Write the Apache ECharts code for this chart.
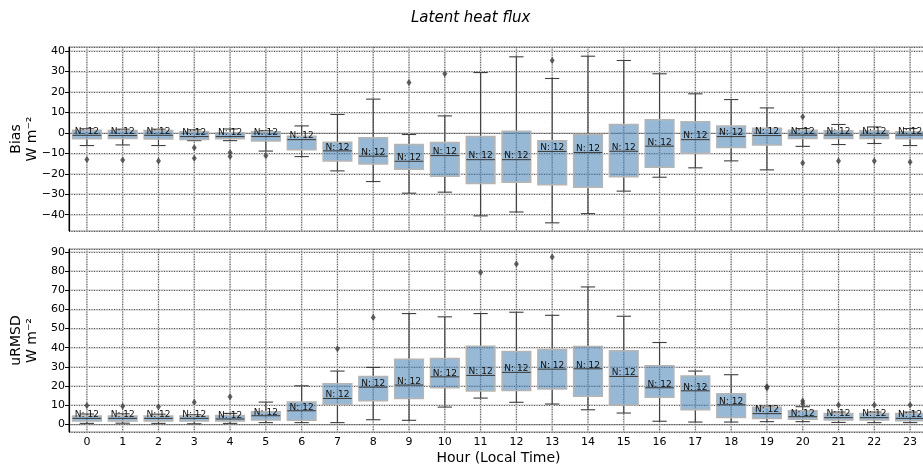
<!DOCTYPE html>
<html>
<head>
  <meta charset="utf-8">
  <title>Latent heat flux</title>
  <script src="https://cdn.jsdelivr.net/npm/echarts@6/dist/echarts.min.js"></script>
</head>
<body style="margin:0">
  <div id="main" style="width:923px;height:467px;"></div>
  <script type="text/javascript">
    var hours = ['0','1','2','3','4','5','6','7','8','9','10','11','12','13','14','15','16','17','18','19','20','21','22','23'];

    // Bias (W m-2): whisker low, Q1, median, Q3, whisker high
    var biasLo  = [-6.2, -5.9, -6.2, -3.8, -3.8, -8.9, -11.6, -18.6, -23.8, -29.5, -29.0, -40.6, -38.7, -44.0, -39.5, -28.5, -21.7, -17.1, -13.7, -18.1, -6.6, -5.7, -5.2, -6.2];
    var biasQ1  = [-2.9, -2.8, -3.0, -3.2, -2.9, -4.0, -8.2, -13.7, -15.2, -17.8, -21.2, -24.8, -24.1, -25.4, -26.6, -21.5, -16.8, -10.0, -7.2, -5.9, -2.8, -2.8, -2.8, -2.9];
    var biasMed = [-1.2, -1.3, -1.2, -1.8, -1.8, -1.8, -3.3, -8.8, -11.4, -13.9, -11.1, -13.1, -13.1, -9.1, -9.6, -9.0, -6.5, -3.3, -1.8, -1.3, -1.1, -1.1, -1.1, -1.1];
    var biasQ3  = [1.3, 1.2, 1.2, 0.5, 0.0, 0.5, -1.6, -4.6, -2.4, -5.7, -4.7, -1.8, 0.8, -3.9, -0.8, 4.1, 6.4, 5.4, 3.3, 2.3, 1.3, 1.0, 1.0, 0.5];
    var biasHi  = [2.0, 1.8, 1.8, 1.5, 1.9, 1.0, 3.4, 9.0, 16.5, -0.8, 8.3, 29.5, 37.2, 26.6, 37.5, 35.4, 28.9, 19.1, 16.3, 12.2, 2.1, 4.1, 2.9, 2.1];
    var biasOutliers = [[0, -13.0], [1, -13.3], [2, -13.8], [3, -7.3], [3, -12.4], [4, -9.6], [4, -11.6], [5, -11.2],
      [9, 24.6], [10, 28.9], [13, 35.4], [20, 7.9], [20, -14.8], [21, -13.8], [22, -13.8], [23, -14.2]];

    // uRMSD (W m-2)
    var rmsdLo  = [0.5, 0.6, 0.5, 0.3, 0.5, 0.9, 0.9, 0.9, 2.4, 2.1, 9.0, 13.7, 11.5, 10.6, 7.6, 5.9, 1.6, 1.2, 1.2, 1.4, 1.4, 1.0, 0.9, 0.9];
    var rmsdQ1  = [1.7, 1.7, 1.7, 1.7, 1.7, 2.3, 2.1, 10.4, 12.3, 13.5, 19.1, 17.4, 17.7, 18.4, 14.6, 10.1, 14.1, 7.6, 3.6, 3.1, 2.6, 2.3, 2.3, 1.9];
    var rmsdMed = [3.1, 3.1, 3.1, 3.1, 2.8, 4.5, 7.1, 13.5, 19.4, 20.5, 24.8, 25.5, 27.1, 28.8, 29.0, 25.0, 19.1, 17.5, 10.2, 5.6, 4.0, 3.5, 3.5, 3.1];
    var rmsdQ3  = [4.3, 4.3, 4.3, 4.3, 4.6, 6.6, 11.6, 21.2, 25.0, 33.9, 34.4, 40.8, 38.0, 39.1, 40.6, 38.4, 30.6, 25.2, 16.0, 8.9, 7.1, 5.7, 5.7, 5.7];
    var rmsdHi  = [5.4, 5.5, 5.3, 5.0, 5.7, 11.6, 20.1, 27.8, 29.7, 57.8, 56.1, 57.8, 58.5, 56.9, 71.7, 56.4, 42.7, 27.8, 25.9, 9.5, 9.2, 6.4, 6.4, 6.4];
    var rmsdOutliers = [[0, 9.8], [1, 9.5], [2, 9.2], [3, 11.5], [4, 14.4], [7, 39.4], [8, 55.7], [11, 79.3], [12, 83.7], [13, 87.3],
      [19, 19.7], [19, 19.0], [20, 12.2], [20, 10.9], [21, 10.1], [22, 10.1], [23, 10.1]];

    var counts = [12, 12, 12, 12, 12, 12, 12, 12, 12, 12, 12, 12, 12, 12, 12, 12, 12, 12, 12, 12, 12, 12, 12, 12];

    var FONT = 'DejaVu Sans';

    function boxRows(lo, q1, med, q3, hi) {
      var rows = [];
      for (var i = 0; i < hours.length; i++) {
        rows.push([i, lo[i], q1[i], med[i], q3[i], hi[i], counts[i]]);
      }
      return rows;
    }

    function renderBox(params, api) {
      var i = api.value(0);
      var cs = params.coordSys;
      var band = api.size([1, 0])[0];
      var w = band * 0.8;
      var cx = api.coord([i, 0])[0];
      var yLo = api.coord([i, api.value(1)])[1];
      var yQ1 = api.coord([i, api.value(2)])[1];
      var yMed = api.coord([i, api.value(3)])[1];
      var yQ3 = api.coord([i, api.value(4)])[1];
      var yHi = api.coord([i, api.value(5)])[1];
      var dark = { stroke: '#3f3f3f', lineWidth: 1.1 };
      return {
        type: 'group',
        children: [
          { type: 'line', shape: { x1: cx, y1: cs.y, x2: cx, y2: cs.y + cs.height }, style: { stroke: '#d4d4d4', lineWidth: 1.6 } },
          { type: 'line', shape: { x1: cx, y1: cs.y, x2: cx, y2: cs.y + cs.height }, style: { stroke: '#555', lineWidth: 1, lineDash: [1, 1.5] } },
          { type: 'line', shape: { x1: cx, y1: yQ1, x2: cx, y2: yLo }, style: dark },
          { type: 'line', shape: { x1: cx, y1: yQ3, x2: cx, y2: yHi }, style: dark },
          { type: 'line', shape: { x1: cx - w / 4, y1: yLo, x2: cx + w / 4, y2: yLo }, style: dark },
          { type: 'line', shape: { x1: cx - w / 4, y1: yHi, x2: cx + w / 4, y2: yHi }, style: dark },
          { type: 'rect', shape: { x: cx - w / 2, y: yQ3, width: w, height: yQ1 - yQ3 },
            style: { fill: 'rgba(70,130,180,0.56)', stroke: '#b5b5b5', lineWidth: 1.5 } },
          { type: 'line', shape: { x1: cx - w / 2, y1: yMed, x2: cx + w / 2, y2: yMed }, style: dark },
          { type: 'text', x: cx, y: yMed + 1,
            style: { text: 'N: ' + api.value(6), fill: '#111', font: '9px "DejaVu Sans"', align: 'center', verticalAlign: 'bottom' } }
        ]
      };
    }

    function fmt(v) {
      if (Math.round(v) !== v || v % 10 !== 0) return '';
      return v < 0 ? '\u2212' + (-v) : String(v);
    }

    function yAxisMain(grid, min, max, name) {
      return {
        type: 'value', gridIndex: grid, min: min, max: max, splitNumber: 9, z: 3,
        name: name, nameLocation: 'middle', nameRotate: 90, nameGap: 29, nameMoveOverlap: false,
        nameTextStyle: { fontFamily: FONT, fontSize: 14, color: '#000', lineHeight: 16 },
        axisLine: { show: true, lineStyle: { color: '#000', width: 1.2 } },
        axisTick: { show: true, length: 4, lineStyle: { color: '#000' } },
        axisLabel: { fontFamily: FONT, fontSize: 11, color: '#000', margin: 4, formatter: fmt, showMinLabel: false, showMaxLabel: false },
        splitLine: { show: true, lineStyle: { color: '#555', width: 1, type: [1, 1.5] } }
      };
    }

    function yAxisGhost(grid, min, max) {
      return {
        type: 'value', gridIndex: grid, min: min, max: max, splitNumber: 9, z: 1,
        axisLine: { show: false }, axisTick: { show: false }, axisLabel: { show: false, formatter: fmt },
        splitLine: { show: true, lineStyle: { color: '#d4d4d4', width: 1.6 } }
      };
    }

    var myChart = echarts.init(document.getElementById('main'));

    var option = {
      animation: false,
      backgroundColor: '#fff',
      title: {
        text: 'Latent heat flux', left: 406, top: 6,
        textStyle: { fontFamily: FONT, fontSize: 15, fontStyle: 'italic', fontWeight: 'normal', color: '#000' }
      },
      grid: [
        { left: 69, top: 47, width: 859, height: 184, outerBoundsMode: 'none', containLabel: false,
          show: true, borderColor: '#222', borderWidth: 1, backgroundColor: 'transparent' },
        { left: 69, top: 249, width: 859, height: 183, outerBoundsMode: 'none', containLabel: false,
          show: true, borderColor: '#222', borderWidth: 1, backgroundColor: 'transparent' }
      ],
      xAxis: [
        {
          type: 'category', gridIndex: 0, data: hours,
          axisLine: { lineStyle: { color: '#000', width: 1.2 } },
          axisTick: { alignWithLabel: true, length: 4, lineStyle: { color: '#000' } },
          axisLabel: { show: false },
          splitLine: { show: false }
        },
        {
          type: 'category', gridIndex: 1, data: hours,
          name: 'Hour (Local Time)', nameLocation: 'middle', nameGap: 19, nameMoveOverlap: false,
          nameTextStyle: { fontFamily: FONT, fontSize: 14, color: '#000' },
          axisLine: { lineStyle: { color: '#000', width: 1.2 } },
          axisTick: { alignWithLabel: true, length: 4, lineStyle: { color: '#000' } },
          axisLabel: { fontFamily: FONT, fontSize: 11, color: '#000', margin: 5 },
          splitLine: { show: false }
        }
      ],
      yAxis: [
        yAxisMain(0, -48, 42, 'Bias\nW m\u207b\u00b2'),
        yAxisMain(1, -4, 91.5, 'uRMSD\nW m\u207b\u00b2'),
        yAxisGhost(0, -48, 42),
        yAxisGhost(1, -4, 91.5)
      ],
      series: [
        {
          type: 'custom', name: 'Bias', xAxisIndex: 0, yAxisIndex: 0, z: 4,
          renderItem: renderBox, encode: { x: 0, y: [1, 2, 3, 4, 5] },
          data: boxRows(biasLo, biasQ1, biasMed, biasQ3, biasHi)
        },
        {
          type: 'scatter', xAxisIndex: 0, yAxisIndex: 0, z: 5,
          symbol: 'diamond', symbolSize: [5, 7],
          itemStyle: { color: '#3d3d3d' },
          data: biasOutliers
        },
        {
          type: 'custom', name: 'uRMSD', xAxisIndex: 1, yAxisIndex: 1, z: 4,
          renderItem: renderBox, encode: { x: 0, y: [1, 2, 3, 4, 5] },
          data: boxRows(rmsdLo, rmsdQ1, rmsdMed, rmsdQ3, rmsdHi)
        },
        {
          type: 'scatter', xAxisIndex: 1, yAxisIndex: 1, z: 5,
          symbol: 'diamond', symbolSize: [5, 7],
          itemStyle: { color: '#3d3d3d' },
          data: rmsdOutliers
        }
      ]
    };

    myChart.setOption(option);
  </script>
</body>
</html>
